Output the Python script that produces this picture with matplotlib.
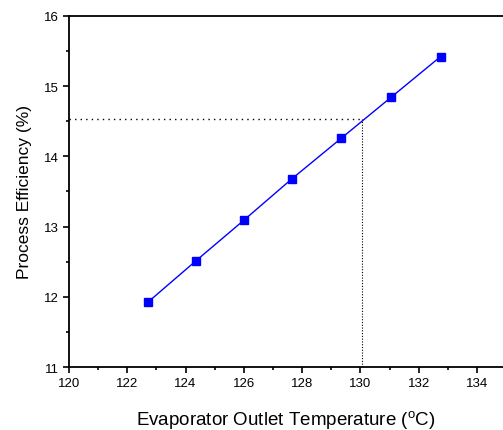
import matplotlib
matplotlib.use("Agg")
import matplotlib.pyplot as plt
from matplotlib.ticker import MultipleLocator

plt.rcParams['font.family'] = ['Liberation Sans', 'DejaVu Sans']

# evaporator outlet temperature (C) vs process efficiency (%)
temp = [122.7, 124.35, 126.0, 127.65, 129.35, 131.05, 132.75]
eff = [11.92, 12.51, 13.09, 13.68, 14.26, 14.84, 15.42]
target_temp = 130.07
target_eff = 14.53

fig = plt.figure(figsize=(5.03, 4.31), dpi=100)
ax = fig.add_axes([0.137, 0.146, 0.863, 0.815])

ax.plot(temp, eff, color='#0000ff', lw=1, marker='s', ms=5.5,
        markerfacecolor='#0000ff', markeredgecolor='#0000ff')
ax.plot([120, target_temp], [target_eff, target_eff], color='black', lw=1, ls=(0, (1, 3)))
ax.plot([target_temp, target_temp], [11, target_eff], color='black', lw=0.8, ls=(0, (1, 1.5)))

ax.set_xlim(120, 134.89)
ax.set_ylim(11, 16)
ax.xaxis.set_major_locator(MultipleLocator(2))
ax.xaxis.set_minor_locator(MultipleLocator(1))
ax.yaxis.set_major_locator(MultipleLocator(1))
ax.yaxis.set_minor_locator(MultipleLocator(0.5))
ax.tick_params(which='major', direction='out', length=4, width=1.2, labelsize=9.5, pad=3)
ax.tick_params(which='minor', direction='out', length=2.5, width=1.2)

ax.spines['right'].set_visible(False)
for s in ['left', 'bottom', 'top']:
    ax.spines[s].set_linewidth(1.3)

ax.set_xlabel('Evaporator Outlet Temperature ($^{\\mathregular{o}}$C)', fontsize=13.5, labelpad=14)
ax.set_ylabel('Process Efficiency (%)', fontsize=12.5, labelpad=9)

fig.savefig('out.png', dpi=100)
